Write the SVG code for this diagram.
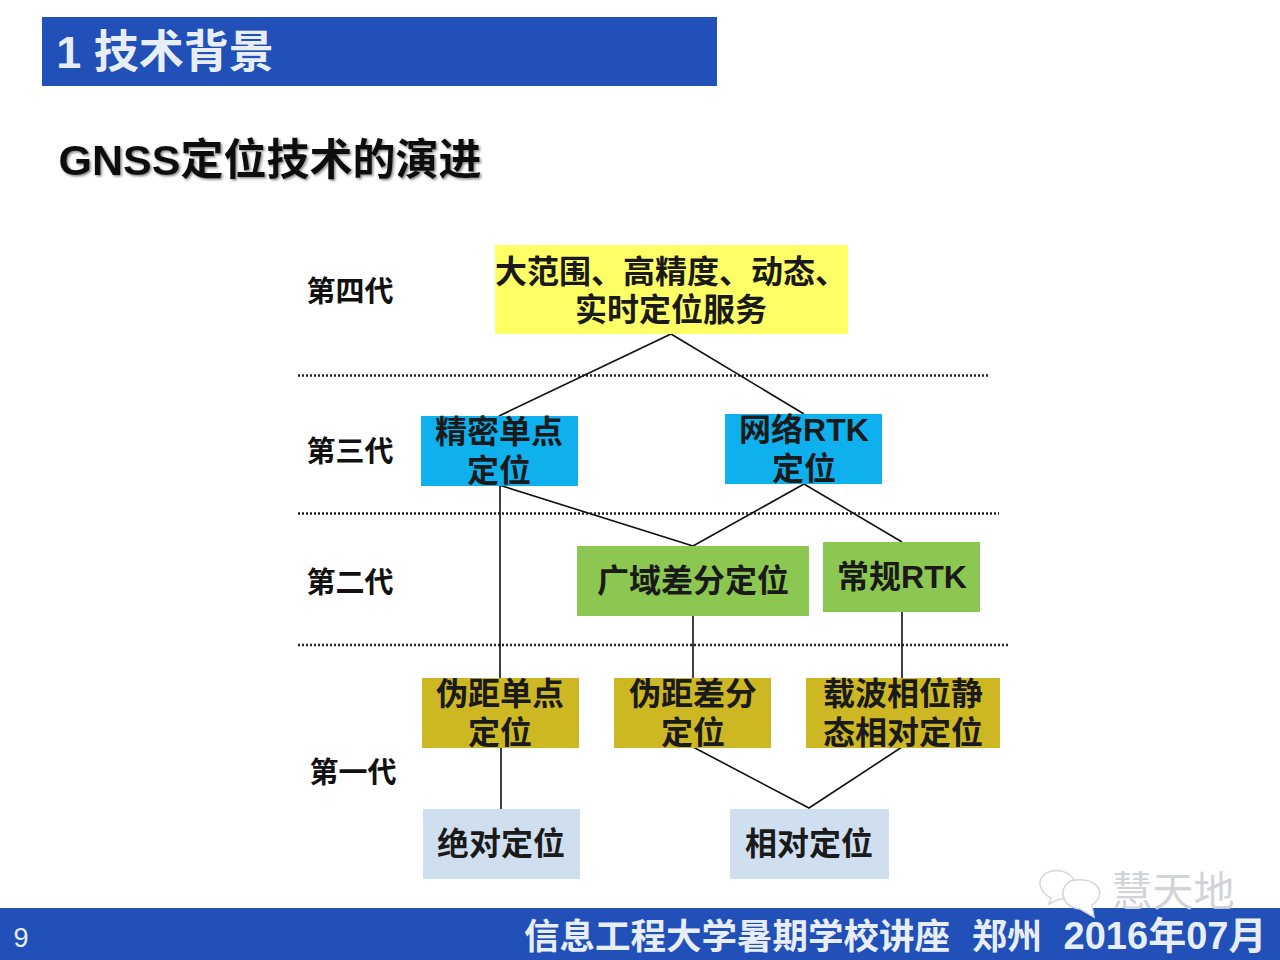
<svg xmlns="http://www.w3.org/2000/svg" width="1280" height="960" viewBox="0 0 1280 960">
<style>
text{font-family:"Liberation Sans","Noto Sans CJK SC",sans-serif;font-weight:bold;fill:#111;text-anchor:middle}
.l{font-size:32px;fill:#1a1a1a}
.g{font-size:29px}
.c{fill:none;stroke:#111;stroke-width:1.6}
.d{fill:none;stroke:#222;stroke-width:2.4;stroke-dasharray:2 2}
.w{fill:#fff}
.b{fill:#fff;stroke:#d4d6da;stroke-width:1.5}
</style>
<defs><filter id="s" x="-5%" y="-10%" width="110%" height="125%"><feDropShadow dx="1.5" dy="1.5" stdDeviation="1" flood-color="#555" flood-opacity="0.7"/></filter></defs>
<rect width="1280" height="960" fill="#fff"/>
<g id="header"><rect x="42" y="17" width="675" height="69" fill="#2150b8"/>
<text x="165" y="68" font-size="45" class="w" style="fill:#e8eef8">1 技术背景</text></g>
<text x="270" y="175" font-size="43" filter="url(#s)">GNSS定位技术的演进</text>
<g id="connectors">
<path class="d" d="M298 375.500H990M298 513.500H999M298 645H1010"/>
<path class="c" d="M499 416L671 334L804 414M499 485L693 546M804 484L693 546M804 484L902 542M500 486V678M693 615V678M902 611V678M501 748V809M693 747L809 808L902 747"/>
</g>
<g id="g4"><text class="g" x="350" y="302">第四代</text></g>
<g id="g3"><text class="g" x="350" y="462">第三代</text></g>
<g id="g2"><text class="g" x="350" y="593">第二代</text></g>
<g id="g1"><text class="g" x="353" y="783">第一代</text></g>
<g id="n1"><rect x="495" y="245" width="353" height="89" fill="#ffff66"/><text class="l" x="671" y="283">大范围、高精度、动态、</text><text class="l" x="671" y="321">实时定位服务</text></g>
<g id="n2"><rect x="421" y="416" width="157" height="70" fill="#0fb0ee"/><text class="l" x="499" y="443">精密单点</text><text class="l" x="499" y="482">定位</text></g>
<g id="n3"><rect x="725" y="414" width="157" height="70" fill="#0fb0ee"/><text class="l" x="804" y="441">网络RTK</text><text class="l" x="804" y="480">定位</text></g>
<g id="n4"><rect x="577" y="546" width="232" height="70" fill="#8cc751"/><text class="l" x="693" y="592">广域差分定位</text></g>
<g id="n5"><rect x="823" y="542" width="157" height="70" fill="#8cc751"/><text class="l" x="902" y="588">常规RTK</text></g>
<g id="n6"><rect x="422" y="678" width="157" height="70" fill="#cdb723"/><text class="l" x="500" y="705">伪距单点</text><text class="l" x="500" y="744">定位</text></g>
<g id="n7"><rect x="614" y="678" width="157" height="70" fill="#cdb723"/><text class="l" x="693" y="705">伪距差分</text><text class="l" x="693" y="744">定位</text></g>
<g id="n8"><rect x="806" y="678" width="194" height="70" fill="#cdb723"/><text class="l" x="903" y="705">载波相位静</text><text class="l" x="903" y="744">态相对定位</text></g>
<g id="n9"><rect x="423" y="809" width="157" height="70" fill="#d0dff0"/><text class="l" x="501" y="855">绝对定位</text></g>
<g id="n10"><rect x="730" y="809" width="159" height="70" fill="#d0dff0"/><text class="l" x="809" y="855">相对定位</text></g>
<g id="footer"><rect y="908" width="1280" height="52" fill="#2150b8"/>
<text x="21" y="947" font-size="27" style="fill:#e8eef8;font-weight:normal">9</text>
<text x="737" y="949" font-size="35.500" style="fill:#e8eef8">信息工程大学暑期学校讲座</text>
<text x="1007" y="949" font-size="35" style="fill:#e8eef8">郑州</text>
<text x="1165" y="949" font-size="38" style="fill:#e8eef8">2016年07月</text></g>
<g id="watermark">
<path class="b" d="M1052 871C1042 873 1038 881 1041 888C1043 893 1047 896 1051 898L1049 904L1057 900L1066 898L1074 880C1070 873 1061 869 1052 871Z"/>
<path class="b" d="M1076 880C1067 880 1062 888 1063 896C1065 904 1072 908 1080 909L1094 917L1092 905C1100 900 1102 892 1097 886C1092 881 1084 879 1076 880Z"/>
<text x="1173" y="906" font-size="41" style="fill:#d0d3d8;font-weight:normal">慧天地</text>
</g>
</svg>
